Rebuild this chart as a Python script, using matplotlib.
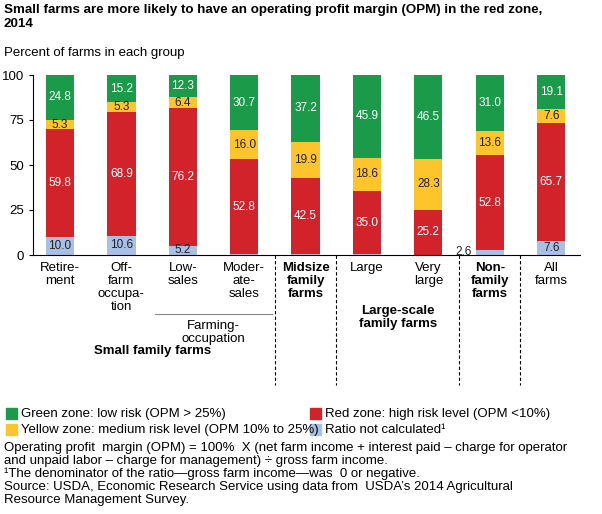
import matplotlib
matplotlib.use("Agg")
import matplotlib.pyplot as plt
from matplotlib.patches import Rectangle
from matplotlib.lines import Line2D
plt.rcParams['font.family'] = ['Liberation Sans', 'DejaVu Sans']

categories = ["Retire-\nment", "Off-\nfarm\noccupa-\ntion", "Low-\nsales", "Moder-\nate-\nsales",
              "Midsize\nfamily\nfarms", "Large", "Very\nlarge", "Non-\nfamily\nfarms", "All\nfarms"]
bold_cats = [4, 7]
blue = [10.0, 10.6, 5.2, 0.5, 0.4, 0.5, 0.0, 2.6, 7.6]
red = [59.8, 68.9, 76.2, 52.8, 42.5, 35.0, 25.2, 52.8, 65.7]
yellow = [5.3, 5.3, 6.4, 16.0, 19.9, 18.6, 28.3, 13.6, 7.6]
green = [24.8, 15.2, 12.3, 30.7, 37.2, 45.9, 46.5, 31.0, 19.1]
blue_labels = ["10.0", "10.6", "5.2", "", "", "", "", "", "7.6"]

C_G, C_Y, C_R, C_B = "#1b9a4a", "#fdc52b", "#d2232a", "#a9c0e6"
W, H = 602, 514
fig = plt.figure(figsize=(W/100, H/100), dpi=100)
ax = fig.add_axes([33/W, 1-255/H, (580-33)/W, 180/H])
x = list(range(len(categories)))
bw = 0.46
b1 = [b + r for b, r in zip(blue, red)]
b2 = [a + y for a, y in zip(b1, yellow)]
ax.bar(x, blue, bw, color=C_B)
ax.bar(x, red, bw, bottom=blue, color=C_R)
ax.bar(x, yellow, bw, bottom=b1, color=C_Y)
ax.bar(x, green, bw, bottom=b2, color=C_G)
fs = 8.5
for i in x:
    ax.text(i, blue[i] + red[i]/2, f"{red[i]:.1f}", ha="center", va="center", color="white", fontsize=fs)
    ax.text(i, b1[i] + yellow[i]/2, f"{yellow[i]:.1f}", ha="center", va="center", color="#222", fontsize=fs)
    ax.text(i, b2[i] + green[i]/2, f"{green[i]:.1f}", ha="center", va="center", color="white", fontsize=fs)
    if blue_labels[i]:
        ax.text(i, blue[i]/2, blue_labels[i], ha="center", va="center", color="#222", fontsize=fs)
ax.text(7 - 0.42, 1.5, "2.6", ha="center", va="center", color="#222", fontsize=fs)
ax.set_xlim(-0.44, 8.47)
ax.set_ylim(0, 100)
ax.set_yticks([0, 25, 50, 75, 100])
ax.tick_params(axis="y", labelsize=9.5, length=3)
ax.set_xticks([])
for s in ["top", "right"]:
    ax.spines[s].set_visible(False)
for i, c in enumerate(categories):
    ax.text(i, -4, c, ha="center", va="top", fontsize=9.5,
            fontweight="bold" if i in bold_cats else "normal", linespacing=1.1)
for xv in [3.5, 4.5, 6.5, 7.5]:
    ax.add_line(Line2D([xv, xv], [0, -72], color="black", lw=0.8, ls=(0, (3, 2)), clip_on=False))
ax.add_line(Line2D([1.55, 3.45], [-33, -33], color="#888", lw=0.8, clip_on=False))
ax.text(2.5, -36, "Farming-\noccupation", ha="center", va="top", fontsize=9.5, linespacing=1.1)
ax.text(5.5, -28, "Large-scale\nfamily farms", ha="center", va="top", fontsize=9.5, fontweight="bold", linespacing=1.1)
ax.text(1.5, -50, "Small family farms", ha="center", va="top", fontsize=9.5, fontweight="bold")

fig.text(4/W, 1-4/H, "Small farms are more likely to have an operating profit margin (OPM) in the red zone,\n2014",
         ha="left", va="top", fontsize=9.6, fontweight="bold", linespacing=1.2)
fig.text(4/W, 1-47/H, "Percent of farms in each group", ha="left", va="top", fontsize=9.5)

def leg(px, py, col, txt):
    fig.patches.append(Rectangle((px/W, 1-(py+5)/H), 11/W, 11/H, color=col, transform=fig.transFigure))
    fig.text((px+15)/W, 1-py/H, txt, ha="left", va="center", fontsize=9.5)
leg(6, 414, C_G, "Green zone: low risk (OPM > 25%)")
leg(6, 430, C_Y, "Yellow zone: medium risk level (OPM 10% to 25%)")
leg(310, 414, C_R, "Red zone: high risk level (OPM <10%)")
leg(310, 430, C_B, "Ratio not calculated¹")
fig.text(4/W, 1-442/H,
         "Operating profit  margin (OPM) = 100%  X (net farm income + interest paid – charge for operator\n"
         "and unpaid labor – charge for management) ÷ gross farm income.\n"
         "¹The denominator of the ratio—gross farm income—was  0 or negative.\n"
         "Source: USDA, Economic Research Service using data from  USDA’s 2014 Agricultural\n"
         "Resource Management Survey.", ha="left", va="top", fontsize=9.5, linespacing=1.1)
fig.savefig("out.png", dpi=100)
